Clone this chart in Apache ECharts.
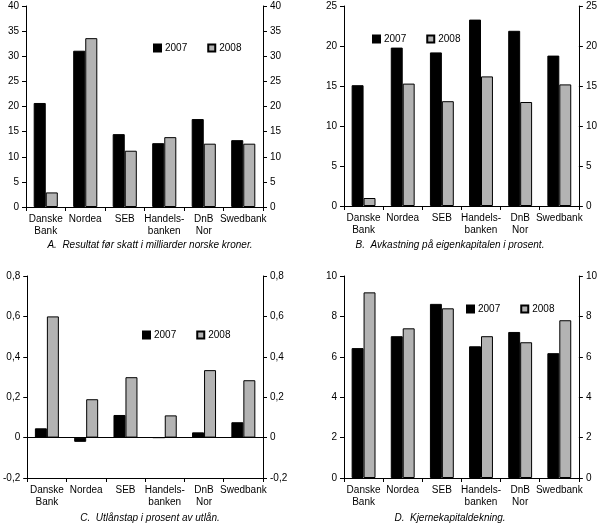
<!DOCTYPE html>
<html>
<head>
<meta charset="utf-8">
<script src="https://cdn.jsdelivr.net/npm/echarts@6/dist/echarts.min.js"></script>
<style>
  html, body { margin: 0; padding: 0; background: #fff; }
  #main { width: 600px; height: 529px; }
</style>
</head>
<body>
<div id="main"></div>
<script>
// bankene
var banks = ['Danske\nBank', 'Nordea', 'SEB', 'Handels-\nbanken', 'DnB\nNor', 'Swedbank'];
var years = ['2007', '2008'];

// A. Resultat før skatt (mrd NOK)
var resultat2007 = [20.7, 31.1, 14.5, 12.7, 17.5, 13.3];
var resultat2008 = [2.9, 33.6, 11.2, 13.9, 12.6, 12.6];
// B. Avkastning på eigenkapitalen (%)
var avkastning2007 = [15.1, 19.8, 19.2, 23.3, 21.9, 18.8];
var avkastning2008 = [1.0, 15.3, 13.1, 16.2, 13.0, 15.2];
// C. Utlånstap i prosent av utlån
var utlanstap2007 = [0.046, -0.021, 0.112, 0, 0.026, 0.076];
var utlanstap2008 = [0.6, 0.19, 0.299, 0.11, 0.334, 0.284];
// D. Kjernekapitaldekning
var kjernekapital2007 = [6.43, 7.02, 8.62, 6.52, 7.23, 6.18];
var kjernekapital2008 = [9.19, 7.41, 8.40, 7.02, 6.72, 7.81];

var panelTitles = [
  'A.  Resultat før skatt i milliarder norske kroner.',
  'B.  Avkastning på eigenkapitalen i prosent.',
  'C.  Utlånstap i prosent av utlån.',
  'D.  Kjernekapitaldekning.'
];

var FONT = 'Liberation Sans';
var myChart = echarts.init(document.getElementById('main'));

var grids = [
  { left: 26, right: 337, top: 6, bottom: 322 },
  { left: 344, right: 19, top: 6, bottom: 323 },
  { left: 26, right: 337, top: 276, bottom: 51 },
  { left: 344, right: 19, top: 276, bottom: 51 }
];
var ranges = [
  { min: 0, max: 40, interval: 5 },
  { min: 0, max: 25, interval: 5 },
  { min: -0.2, max: 0.8, interval: 0.2 },
  { min: 0, max: 10, interval: 2 }
];

function fmt(v) {
  if (Math.abs(v) < 1e-9) return '0';
  if (Math.abs(v - Math.round(v)) < 1e-9) return String(Math.round(v));
  return v.toFixed(1).replace('.', ',');
}

var xAxes = [], yAxes = [];
for (var i = 0; i < 4; i++) {
  xAxes.push({
    type: 'category',
    gridIndex: i,
    data: banks,
    axisLine: { onZero: false, lineStyle: { color: '#000', width: 1 } },
    axisTick: { show: true, length: 4, lineStyle: { color: '#000' } },
    axisLabel: { color: '#000', fontFamily: FONT, fontSize: 10, margin: 6, lineHeight: 12, interval: 0 }
  });
  ['left', 'right'].forEach(function(pos) {
    yAxes.push({
      type: 'value',
      gridIndex: i,
      position: pos,
      min: ranges[i].min,
      max: ranges[i].max,
      interval: ranges[i].interval,
      splitLine: { show: false },
      axisLine: { show: true, lineStyle: { color: '#000', width: 1 } },
      axisTick: { show: true, length: 4, lineStyle: { color: '#000' } },
      axisLabel: { color: '#000', fontFamily: FONT, fontSize: 10, margin: 7, formatter: fmt }
    });
  });
}

var seriesData = [
  [resultat2007, resultat2008],
  [avkastning2007, avkastning2008],
  [utlanstap2007, utlanstap2008],
  [kjernekapital2007, kjernekapital2008]
];
var colors = ['#000000', '#b3b3b3'];

var series = [];
for (var p = 0; p < 4; p++) {
  for (var s = 0; s < 2; s++) {
    var ser = {
      name: years[s],
      type: 'bar',
      xAxisIndex: p,
      yAxisIndex: p * 2,
      data: seriesData[p][s],
      barGap: 0,
      barCategoryGap: '39%',
      itemStyle: { color: colors[s], borderColor: '#000', borderWidth: 1 },
      emphasis: { disabled: true }
    };
    // nullinje i panel C
    if (p === 2 && s === 0) {
      ser.markLine = {
        silent: true,
        symbol: 'none',
        label: { show: false },
        lineStyle: { color: '#000', width: 1, type: 'solid' },
        data: [{ yAxis: 0 }]
      };
    }
    series.push(ser);
  }
}

var legendPos = [
  { left: 148, top: 38 },
  { left: 367, top: 29 },
  { left: 137, top: 325 },
  { left: 461, top: 299 }
];
var legends = legendPos.map(function(lp) {
  return {
    left: lp.left,
    top: lp.top,
    data: years,
    icon: 'rect',
    itemWidth: 7,
    itemHeight: 7,
    itemGap: 20,
    selectedMode: false,
    textStyle: { color: '#000', fontFamily: FONT, fontSize: 10, padding: [0, 0, 0, -1] }
  };
});

var titlePos = [
  { left: 150, top: 240 },
  { left: 450, top: 240 },
  { left: 150, top: 513 },
  { left: 450, top: 513 }
];
var titles = titlePos.map(function(tp, k) {
  return {
    text: panelTitles[k],
    left: tp.left,
    top: tp.top,
    textAlign: 'center',
    padding: 0,
    textStyle: { color: '#000', fontFamily: FONT, fontSize: 10, fontStyle: 'italic', fontWeight: 'normal' }
  };
});

var option = {
  animation: false,
  backgroundColor: '#fff',
  title: titles,
  legend: legends,
  grid: grids,
  xAxis: xAxes,
  yAxis: yAxes,
  series: series
};
myChart.setOption(option);
</script>
</body>
</html>
